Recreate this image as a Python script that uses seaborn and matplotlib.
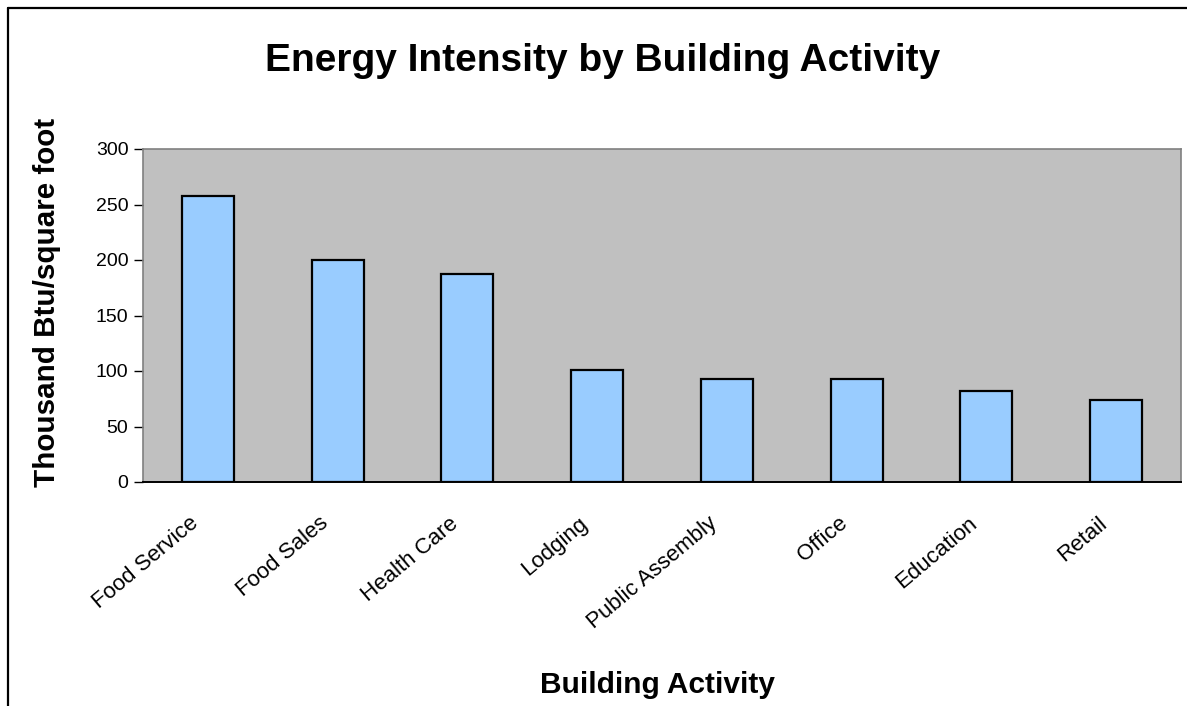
import seaborn as sns
import matplotlib.pyplot as plt
import matplotlib.transforms as mtransforms
import pandas as pd
from matplotlib.lines import Line2D

activities = ["Food Service", "Food Sales", "Health Care", "Lodging",
              "Public Assembly", "Office", "Education", "Retail"]
intensity = [258, 200, 187, 101, 93, 93, 82, 74]
yticks = [0, 50, 100, 150, 200, 250, 300]

df = pd.DataFrame({"Activity": activities, "Intensity": intensity})

sns.set_style("white")
plt.rcParams["font.family"] = ["Liberation Sans", "DejaVu Sans"]
plt.rcParams["text.color"] = "black"
plt.rcParams["axes.labelcolor"] = "black"
plt.rcParams["xtick.color"] = "black"
plt.rcParams["ytick.color"] = "black"

fig = plt.figure(figsize=(11.87, 7.06), dpi=100)
ax = fig.add_axes([143 / 1187, 1 - 482 / 706, 1038 / 1187, 333 / 706])
ax.set_facecolor("#C0C0C0")

sns.barplot(data=df, x="Activity", y="Intensity", color="#99CCFF",
            edgecolor="black", linewidth=1.6, width=0.4, saturation=1, ax=ax)

ax.set_xlim(-0.5, len(activities) - 0.5)
ax.set_ylim(0, 300)
ax.set_yticks(yticks)
ax.tick_params(axis="y", direction="out", length=6.5, width=1, color="black",
               labelsize=14, pad=4, left=True)
ax.tick_params(axis="x", length=0, labelsize=16, pad=28)
shift = mtransforms.ScaledTranslation(-12 / 100, 0, fig.dpi_scale_trans)
for lab in ax.get_xticklabels():
    lab.set_rotation(40)
    lab.set_ha("right")
    lab.set_va("center")
    lab.set_rotation_mode("anchor")
    lab.set_transform(lab.get_transform() + shift)

for side in ["left", "top", "right"]:
    ax.spines[side].set_color("#808080")
    ax.spines[side].set_linewidth(1.2)
ax.spines["bottom"].set_color("black")
ax.spines["bottom"].set_linewidth(1.4)

ax.set_xlabel("Building Activity", fontsize=21.5, fontweight="bold", va="center")
ax.set_ylabel("Thousand Btu/square foot", fontsize=21.3, fontweight="bold", va="center")
ax.xaxis.set_label_coords((657 - 143) / 1038, -(685 - 482) / 333)
ax.yaxis.set_label_coords(-(143 - 47) / 1038, (482 - 302) / 333)

fig.text(603 / 1187, 1 - 61 / 706, "Energy Intensity by Building Activity",
         fontsize=28, fontweight="bold", ha="center", va="center")

# chart frame, cut off at right and bottom
fig.add_artist(Line2D([7.5 / 1187, 7.5 / 1187], [0, 1 - 7.5 / 706],
                      color="black", linewidth=1.6, transform=fig.transFigure))
fig.add_artist(Line2D([7.5 / 1187, 1], [1 - 7.5 / 706, 1 - 7.5 / 706],
                      color="black", linewidth=1.6, transform=fig.transFigure))

fig.savefig("out.png", dpi=100)
